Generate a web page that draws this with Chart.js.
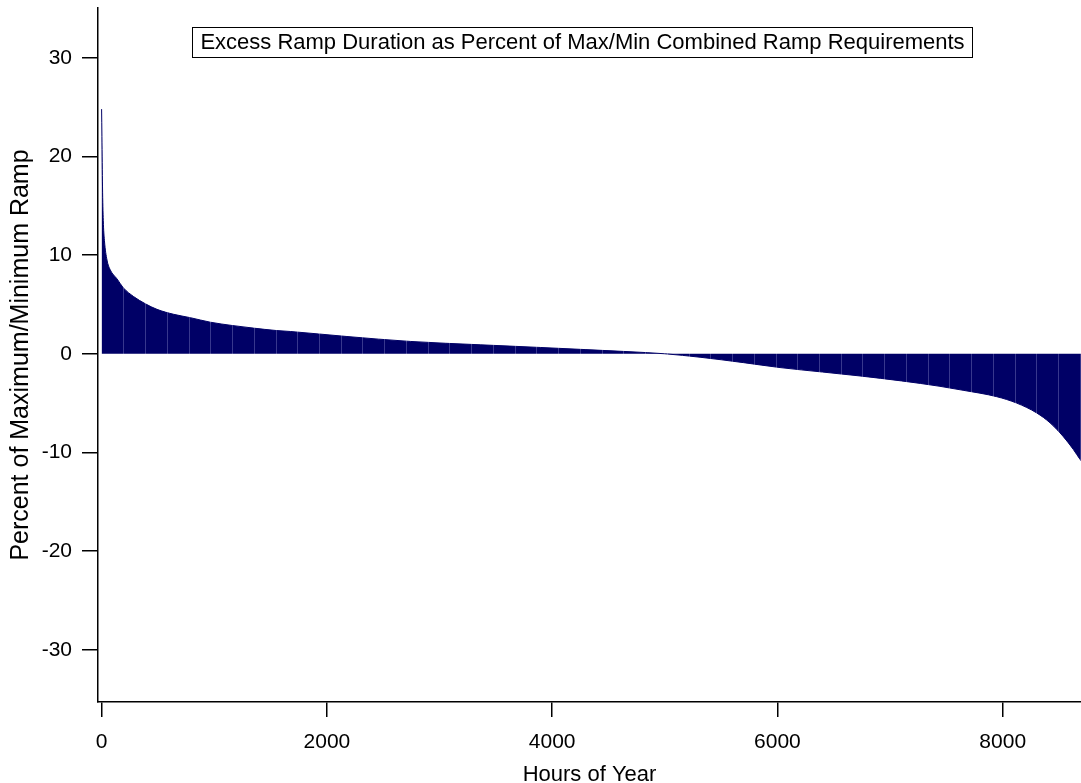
<!DOCTYPE html>
<html>
<head>
<meta charset="utf-8">
<script src="https://cdn.jsdelivr.net/npm/chart.js@4.4.1/dist/chart.umd.min.js"></script>
<style>
  html, body { margin: 0; padding: 0; background: #fff; }
  #wrap { width: 1081px; height: 783px; position: relative; }
</style>
</head>
<body>
<div id="wrap"><canvas id="c" width="1081" height="783"></canvas></div>
<script>
// ---- data ----
const hours = [0, 3, 8, 15, 25, 48, 77, 136, 196, 284, 388, 492, 640, 787, 965, 1157, 1349, 1548, 1675, 2178, 2740, 3361, 3894, 4300, 4700, 5000, 5313, 5700, 6023, 6400, 6733, 7100, 7443, 7648, 7947, 8124, 8302, 8420, 8538, 8627, 8686, 8700];
const excessPct = [24.8, 22, 17, 13.5, 11.5, 9.5, 8.5, 7.6, 6.65, 5.8, 5.07, 4.5, 4.0, 3.66, 3.2, 2.87, 2.6, 2.36, 2.26, 1.75, 1.25, 0.91, 0.64, 0.42, 0.2, 0.0, -0.35, -0.9, -1.4, -1.85, -2.25, -2.75, -3.3, -3.7, -4.35, -5.0, -6.0, -7.0, -8.4, -9.7, -10.7, -10.9];
const xTicks = [0, 2000, 4000, 6000, 8000];
const yTicks = [-30, -20, -10, 0, 10, 20, 30];
const titleText = 'Excess Ramp Duration as Percent of Max/Min Combined Ramp Requirements';
const xTitle = 'Hours of Year';
const yTitle = 'Percent of Maximum/Minimum Ramp';

const FONT = "'Liberation Sans', Arial, Helvetica, sans-serif";
const NAVY = '#000066';
const STRIPE_STEP = 193; // hours between the faint segment seams of the fill

const points = hours.map((h, i) => ({ x: h, y: excessPct[i] }));

const seams = {
  id: 'seams',
  afterDatasetsDraw(chart) {
    const { ctx, chartArea: a, scales: { x } } = chart;
    ctx.save();
    ctx.beginPath();
    ctx.rect(a.left + 1, a.top, a.right - a.left, a.bottom - a.top - 2);
    ctx.clip();
    ctx.globalCompositeOperation = 'source-atop';
    ctx.strokeStyle = 'rgba(110,110,180,0.5)';
    ctx.lineWidth = 1;
    for (let h = STRIPE_STEP; h < x.max; h += STRIPE_STEP) {
      const px = Math.round(x.getPixelForValue(h)) + 0.5;
      ctx.beginPath();
      ctx.moveTo(px, a.top);
      ctx.lineTo(px, a.bottom);
      ctx.stroke();
    }
    ctx.restore();
  }
};

const boxTitle = {
  id: 'boxTitle',
  afterDraw(chart) {
    const ctx = chart.ctx;
    ctx.save();
    ctx.font = '22px ' + FONT;
    const w = ctx.measureText(titleText).width;
    const cx = 582.5, cy = 42;
    const bw = w + 16, bh = 30;
    ctx.fillStyle = '#fff';
    ctx.fillRect(cx - bw / 2, cy - bh / 2, bw, bh);
    ctx.strokeStyle = '#000';
    ctx.lineWidth = 1;
    ctx.strokeRect(Math.round(cx - bw / 2) + 0.5, Math.round(cy - bh / 2) + 0.5, Math.round(bw), bh);
    ctx.fillStyle = '#000';
    ctx.textAlign = 'center';
    ctx.textBaseline = 'middle';
    ctx.fillText(titleText, cx, cy + 1);
    ctx.restore();
  }
};

new Chart(document.getElementById('c'), {
  type: 'line',
  data: {
    datasets: [{
      data: points,
      fill: 'origin',
      backgroundColor: NAVY,
      borderColor: NAVY,
      borderWidth: 1,
      pointRadius: 0,
      cubicInterpolationMode: 'monotone'
    }]
  },
  options: {
    responsive: false,
    animation: false,
    layout: { padding: { top: 8, right: 0, left: 0, bottom: 0 } },
    plugins: { legend: { display: false }, tooltip: { enabled: false } },
    scales: {
      x: {
        type: 'linear',
        min: -32,
        max: 8695,
        afterBuildTicks: s => { s.ticks = xTicks.map(v => ({ value: v })); },
        afterFit: s => { s.height = 81; s.paddingLeft = 0; s.paddingRight = 0; },
        border: { display: true, color: '#000', width: 1.5 },
        grid: { display: true, drawOnChartArea: false, drawTicks: true, tickLength: 15, color: '#000', lineWidth: 1.5 },
        ticks: { color: '#000', font: { family: FONT, size: 21 }, padding: 13, maxRotation: 0, callback: v => String(v) },
        title: { display: true, text: xTitle, color: '#000', font: { family: FONT, size: 22, lineHeight: 0.75 }, padding: { top: 0, bottom: 0 } }
      },
      y: {
        type: 'linear',
        min: -35.3,
        max: 35.05,
        afterBuildTicks: s => { s.ticks = yTicks.map(v => ({ value: v })); },
        afterFit: s => { s.width = 98; s.paddingTop = 0; s.paddingBottom = 0; },
        border: { display: true, color: '#000', width: 1.5 },
        grid: { display: true, drawOnChartArea: false, drawTicks: true, tickLength: 16, color: '#000', lineWidth: 1.5 },
        ticks: { color: '#000', font: { family: FONT, size: 21 }, padding: 10, callback: v => String(v) },
        title: { display: true, text: yTitle, color: '#000', font: { family: FONT, size: 25, lineHeight: 1.2 }, padding: { top: 6, bottom: 0 } }
      }
    }
  },
  plugins: [seams, boxTitle]
});
</script>
</body>
</html>
